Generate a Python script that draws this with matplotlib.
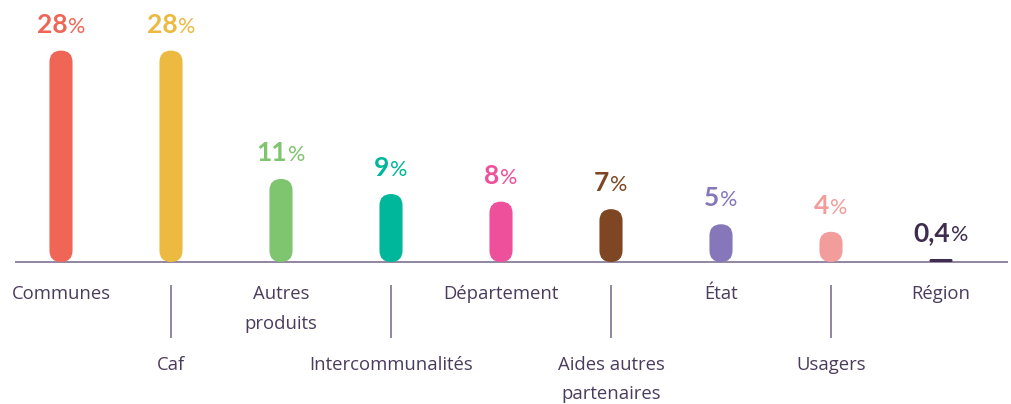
import numpy as np
from matplotlib import pyplot as plt
from matplotlib.patches import FancyBboxPatch

# --- Data ---
categories = ['Communes', 'Caf', 'Autres\nproduits', 'Intercommunalités', 'Département',
              'Aides autres\npartenaires', 'État', 'Usagers', 'Région']
values = [28, 28, 11, 9, 8, 7, 5, 4, 0.4]
value_labels = ['28', '28', '11', '9', '8', '7', '5', '4', '0,4']
colors = ['#EF6657', '#ECB941', '#7FC46E', '#00B79B', '#EE509B',
          '#7E4622', '#8677BA', '#F39C9C', '#3F2D50']

TEXT_COLOR = '#4B3C5D'
LINE_COLOR = '#8A7C98'

# --- Layout (pixels) ---
W, H = 1011, 404
X0, DX = 61, 110          # first bar centre, spacing
BASE = 262                # baseline from top
PXU = 7.55                # pixels per percent
BAR_W = 0.21              # in x units

fig = plt.figure(figsize=(W / 100, H / 100), dpi=100)
ax = fig.add_axes([0, 0, 1, 1])
ax.set_xlim(-X0 / DX, (W - X0) / DX)
ax.set_ylim(-(H - BASE) / PXU, BASE / PXU)
ax.axis('off')

aspect = DX / PXU  # y units per x unit (same pixel length)

# baseline
ax.hlines(0, (15 - X0) / DX, (1008 - X0) / DX, color=LINE_COLOR, lw=1.3, zorder=1)

x = np.arange(len(values))
for i, v in enumerate(values):
    h_x = v / aspect
    r = min(BAR_W / 2, h_x / 2)
    bar = FancyBboxPatch((x[i] - BAR_W / 2, 0), BAR_W, v,
                         boxstyle=f'round,pad=0,rounding_size={r}',
                         mutation_aspect=aspect, fc=colors[i], ec='none', zorder=2)
    ax.add_patch(bar)

# value labels: bold number + lighter percent sign, centred together
renderer = fig.canvas.get_renderer()
for i, v in enumerate(values):
    off = 18
    tn = ax.annotate(value_labels[i], xy=(x[i], v), xytext=(0, off), textcoords='offset pixels',
                     ha='left', va='baseline', fontsize=19, fontweight='bold',
                     color=colors[i], family='Lato')
    tp = ax.annotate('%', xy=(x[i], v), xytext=(0, off), textcoords='offset pixels',
                     ha='left', va='baseline', fontsize=15.5, color=colors[i], family='Lato')
    wn = tn.get_window_extent(renderer).width
    wp = tp.get_window_extent(renderer).width
    gap = 1
    total = wn + gap + wp
    tn.xyann = (-total / 2, off)
    tp.xyann = (-total / 2 + wn + gap, off)

# category labels alternating above / below, with connector lines for the lower ones
for i, name in enumerate(categories):
    lines = name.split('\n')
    if i % 2 == 0:
        offs = [-32, -62]
    else:
        offs = [-103, -132]
        ax.vlines(x[i], -23 / PXU, -76 / PXU, color=LINE_COLOR, lw=1.3)
    for line, o in zip(lines, offs):
        ax.annotate(line, xy=(x[i], 0), xytext=(0, o), textcoords='offset pixels',
                    ha='center', va='center', fontsize=13.3, color=TEXT_COLOR,
                    family='Open Sans')

fig.savefig('out.png', dpi=100)
